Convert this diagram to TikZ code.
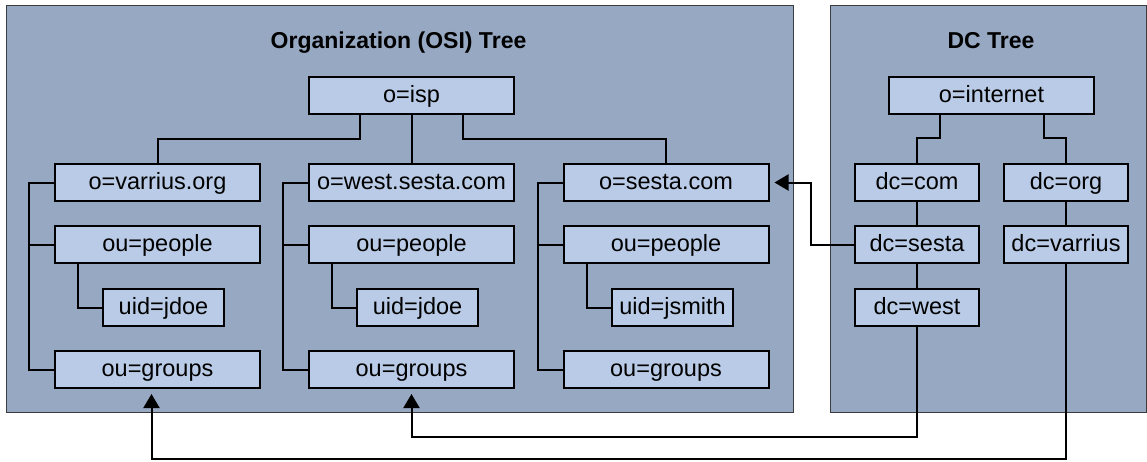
\documentclass[tikz,border=0pt]{standalone}
\usepackage{fontspec}
\setmainfont{Liberation Sans}
\usetikzlibrary{arrows.meta}
\definecolor{panelfill}{RGB}{151,168,194}
\definecolor{boxfill}{RGB}{185,203,230}
\definecolor{panelline}{RGB}{60,60,60}
\tikzset{
  panel/.style={draw=panelline,line width=1pt,fill=panelfill},
  entry/.style={draw=black,line width=2pt,fill=boxfill,minimum height=37pt,
    inner sep=0pt,text height=17pt,text depth=3pt,font=\fontsize{23.5}{26}\selectfont},
  wide/.style={entry,minimum width=205pt},
  mid/.style={entry,minimum width=121pt},
  narrow/.style={entry,minimum width=124pt},
  link/.style={draw=black,line width=2pt},
  arr/.style={link,-{Triangle[length=14pt,width=16pt]}},
  ttl/.style={font=\bfseries\fontsize{23}{26}\selectfont,anchor=base}
}
\begin{document}
\begin{tikzpicture}[x=1pt,y=-1pt]
\useasboundingbox (0,0) rectangle (1147,461);
\fill[white] (0,0) rectangle (1147,461);
% panels
\path[panel] (6.5,5.5) rectangle (793,412.5);
\path[panel] (830,5.5) rectangle (1146.5,412.5);
\node[ttl] (t1) at (398.5,48) {Organization (OSI) Tree};
\node[ttl] (t2) at (991,48) {DC Tree};
% left tree
\node[wide] (isp) at (411.5,95.5) {o=isp};
\node[wide] (org1) at (157.5,182.5) {o=varrius.org};
\node[wide] (org2) at (411.5,182.5) {o=west.sesta.com};
\node[wide] (org3) at (666,182.5) {o=sesta.com};
\node[wide] (ppl1) at (157.5,244.5) {ou=people};
\node[wide] (ppl2) at (411.5,244.5) {ou=people};
\node[wide] (ppl3) at (666,244.5) {ou=people};
\node[mid] (uid1) at (163.5,307.5) {uid=jdoe};
\node[mid] (uid2) at (417.5,307.5) {uid=jdoe};
\node[mid] (uid3) at (672.5,307.5) {uid=jsmith};
\node[wide] (grp1) at (157.5,369.5) {ou=groups};
\node[wide] (grp2) at (411.5,369.5) {ou=groups};
\node[wide] (grp3) at (666,369.5) {ou=groups};
% right tree
\node[wide] (inet) at (991.5,95.5) {o=internet};
\node[narrow] (com) at (917,182.5) {dc=com};
\node[narrow] (dorg) at (1066,182.5) {dc=org};
\node[narrow] (sesta) at (917,244.5) {dc=sesta};
\node[narrow] (varr) at (1066,244.5) {dc=varrius};
\node[narrow] (west) at (917,307.5) {dc=west};
% left tree connectors
\draw[link] ([xshift=-51.5pt]isp.south) -- ++(0,24) -| (org1.north);
\draw[link] (isp.south) -- (org2.north);
\draw[link] ([xshift=51.5pt]isp.south) -- ++(0,24) -| (org3.north);
\foreach \o/\p/\u/\g in {org1/ppl1/uid1/grp1,org2/ppl2/uid2/grp2,org3/ppl3/uid3/grp3}{
  \draw[link] (\o.west) -- ++(-25,0) |- (\g.west);
  \draw[link] (\p.west) -- ++(-25,0);
  \draw[link] ([xshift=-79.5pt]\p.south) |- (\u.west);
}
% right tree connectors
\draw[link] ([xshift=-51.5pt]inet.south) -- ++(0,23) -| (com.north);
\draw[link] ([xshift=52.5pt]inet.south) -- ++(0,23) -| (dorg.north);
\draw[link] (com.south) -- (sesta.north);
\draw[link] (sesta.south) -- (west.north);
\draw[link] (dorg.south) -- (varr.north);
% cross links
\coordinate (k1) at (811,244.5);
\coordinate (k2) at (917,437);
\coordinate (k3) at (1066,459);
\draw[arr] (sesta.west) -- (k1) |- ([xshift=5pt]org3.east);
\draw[arr] (west.south) -- (k2) -| ([yshift=-5pt]grp2.south);
\draw[arr] (varr.south) -- (k3) -| ([xshift=-6pt,yshift=-5pt]grp1.south);
\end{tikzpicture}
\end{document}
